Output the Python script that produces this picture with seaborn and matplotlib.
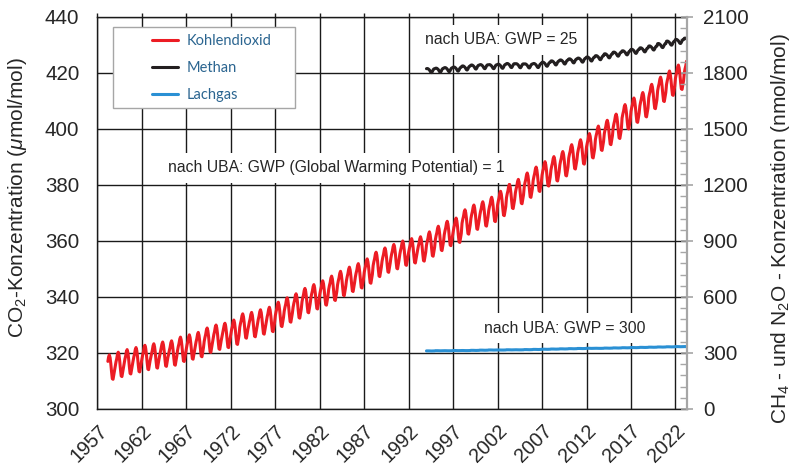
import numpy as np
import pandas as pd
import matplotlib
matplotlib.use("Agg")
import matplotlib.pyplot as plt
import seaborn as sns
from matplotlib.patches import Rectangle
from matplotlib.lines import Line2D

# --- data -------------------------------------------------------------
# CO2 annual means (µmol/mol), 1958-2023, plus mean seasonal offsets (Jan..Dec)
co2_years = list(range(1958, 2024))
co2_annual = [315.0, 315.98, 316.91, 317.64, 318.45, 318.99, 319.62, 320.04,
              321.37, 322.18, 323.05, 324.62, 325.68, 326.32, 327.46, 329.68,
              330.19, 331.13, 332.03, 333.84, 335.41, 336.84, 338.76, 340.12,
              341.48, 343.15, 344.87, 346.35, 347.61, 349.31, 351.69, 353.20,
              354.45, 355.70, 356.54, 357.21, 358.96, 360.97, 362.74, 363.88,
              366.84, 368.54, 369.71, 371.32, 373.45, 375.98, 377.70, 379.98,
              382.09, 384.02, 385.83, 387.64, 390.10, 391.85, 394.06, 396.74,
              398.81, 401.01, 404.41, 406.76, 408.72, 411.65, 414.21, 416.41,
              418.53, 420.60]
co2_season = [-0.5, 0.9, 2.0, 3.6, 4.3, 3.3, 1.1, -1.8, -4.2, -4.4, -2.8, -1.2]

# CH4 annual means (nmol/mol), 1994-2023, plus seasonal offsets
ch4_years = list(range(1994, 2024))
ch4_annual = [1815, 1817, 1820, 1823, 1829, 1834, 1836, 1836, 1838, 1842,
              1841, 1840, 1842, 1849, 1856, 1861, 1867, 1871, 1877, 1884,
              1894, 1903, 1910, 1918, 1926, 1936, 1949, 1962, 1971, 1978]
ch4_season = [8, 9, 8, 5, 1, -5, -12, -13, -7, 2, 7, 8]

# N2O annual means (nmol/mol), 1994-2023, plus seasonal offsets
n2o_years = list(range(1994, 2024))
n2o_annual = [311, 312, 312, 313, 313, 314, 315, 316, 316, 317,
              317, 318, 319, 320, 321, 322, 323, 324, 325, 325,
              326, 327, 328, 329, 330, 331, 332, 333, 334, 334]
n2o_season = [0.2, 0.3, 0.3, 0.2, 0.0, -0.2, -0.3, -0.4, -0.2, 0.0, 0.1, 0.2]

x_ticks = list(range(1957, 2023, 5))
co2_ticks = list(range(300, 441, 20))
rhs_ticks = list(range(0, 2101, 300))

legend_labels = ["Kohlendioxid", "Methan", "Lachgas"]
colors = {"Kohlendioxid": "#ec1c24", "Methan": "#231f20", "Lachgas": "#2a90d4"}


def monthly(years, annual, season, first=(None, 1), last=(2023, 4)):
    rows = []
    for y, a in zip(years, annual):
        for m in range(1, 13):
            if y == years[0] and m < first[1]:
                continue
            if (y, m) > last:
                continue
            rows.append((y + (m - 1) / 12.0, a + season[m - 1]))
    return pd.DataFrame(rows, columns=["Jahr", "Wert"])


co2 = monthly(co2_years, co2_annual, co2_season, first=(1958, 3))
ch4 = monthly(ch4_years, ch4_annual, ch4_season)
n2o = monthly(n2o_years, n2o_annual, n2o_season)

# --- style ------------------------------------------------------------
sns.set_theme(style="white")
plt.rcParams["font.family"] = ["Liberation Sans", "DejaVu Sans"]
plt.rcParams["mathtext.fontset"] = "custom"
plt.rcParams["mathtext.rm"] = "Liberation Sans"
plt.rcParams["mathtext.it"] = "Liberation Sans:italic"
plt.rcParams["text.color"] = "#262626"
plt.rcParams["axes.labelcolor"] = "#262626"

fig = plt.figure(figsize=(7.92, 4.68), dpi=100)
ax = fig.add_axes([0.1231, 0.1261, 0.7443, 0.8376])
ax2 = ax.twinx()

lw = 2.2
sns.lineplot(data=co2, x="Jahr", y="Wert", ax=ax, color=colors["Kohlendioxid"],
             lw=lw, estimator=None, sort=False)
sns.lineplot(data=ch4, x="Jahr", y="Wert", ax=ax2, color=colors["Methan"],
             lw=lw, estimator=None, sort=False)
sns.lineplot(data=n2o, x="Jahr", y="Wert", ax=ax2, color=colors["Lachgas"],
             lw=lw, estimator=None, sort=False)

# --- axes -------------------------------------------------------------
ax.set_xlim(1957, 2023.3)
ax.set_ylim(300, 440)
ax2.set_ylim(0, 2100)

ax.set_xticks(x_ticks)
ax.set_xticklabels([str(t) for t in x_ticks], rotation=45, ha="right",
                   va="top", rotation_mode="anchor", fontsize=14.2)
ax.set_yticks(co2_ticks)
ax.set_yticklabels([str(t) for t in co2_ticks], fontsize=14.8)
ax.tick_params(axis="x", direction="out", length=5, width=1, color="#1a1a1a",
               pad=4, top=True)
for tk in ax.xaxis.get_major_ticks():
    tk.tick2line.set_markersize(3)
ax.tick_params(axis="y", length=0, pad=13)
ax.grid(True, color="#1a1a1a", lw=1.0)
ax.set_axisbelow(True)

for side in ["left", "bottom", "top"]:
    ax.spines[side].set_color("#1a1a1a")
    ax.spines[side].set_linewidth(1.0)
ax.spines["right"].set_visible(False)

ax2.set_yticks(rhs_ticks)
ax2.set_yticklabels([str(t) for t in rhs_ticks], fontsize=14.8)
ax2.set_yticks(list(range(0, 2101, 60)), minor=True)
ax2.tick_params(axis="y", which="major", direction="inout", length=9,
                width=1.2, color="#a6a6a6", pad=7)
ax2.tick_params(axis="y", which="minor", direction="in", length=5,
                width=1.0, color="#a6a6a6")
for side in ["left", "bottom", "top"]:
    ax2.spines[side].set_visible(False)
ax2.spines["right"].set_color("#a6a6a6")
ax2.spines["right"].set_linewidth(1.6)

ax.set_xlabel("")
ax.set_ylabel(r"CO$_2$-Konzentration ($\mu$mol/mol)", fontsize=15,
              va="center", ha="center")
ax.yaxis.set_label_coords(-0.135, 0.54)
ax2.set_ylabel(r"CH$_4$ - und N$_2$O - Konzentration (nmol/mol)", fontsize=15,
               va="center", ha="center", rotation=90)
ax2.yaxis.set_label_coords(1.159, 0.46)

# --- annotations ------------------------------------------------------
box = dict(boxstyle="square,pad=0.5", facecolor="white", edgecolor="none")
ax.text(1993.8, 431.8, "nach UBA: GWP = 25", fontsize=11.3, va="center",
        ha="left", color="#262626", bbox=box, zorder=3)
ax.text(1964.9, 386.1, "nach UBA: GWP (Global Warming Potential) = 1",
        fontsize=11.3, va="center", ha="left", color="#262626", bbox=box,
        zorder=3)
ax.text(2000.5, 328.9, "nach UBA: GWP = 300", fontsize=11.3, va="center",
        ha="left", color="#262626", bbox=box, zorder=3)

# --- legend -----------------------------------------------------------
frame = Rectangle((0.0263, 0.768), 0.3087, 0.2065, transform=ax2.transAxes,
                  facecolor="white", edgecolor="#a6a6a6", lw=1.0, zorder=4)
ax2.add_patch(frame)
handles = [Line2D([], [], color=colors[k], lw=2.2) for k in legend_labels]
leg = ax2.legend(handles, legend_labels, loc="upper left",
                 bbox_to_anchor=(0.0925, 0.957), frameon=False,
                 borderaxespad=0, borderpad=0, handlelength=1.8,
                 handletextpad=0.6, labelspacing=0.9,
                 prop={"family": "Lato", "size": 10.5})
leg.set_zorder(6)
for t in leg.get_texts():
    t.set_color("#2b6590")

fig.savefig("out.png", dpi=100)
